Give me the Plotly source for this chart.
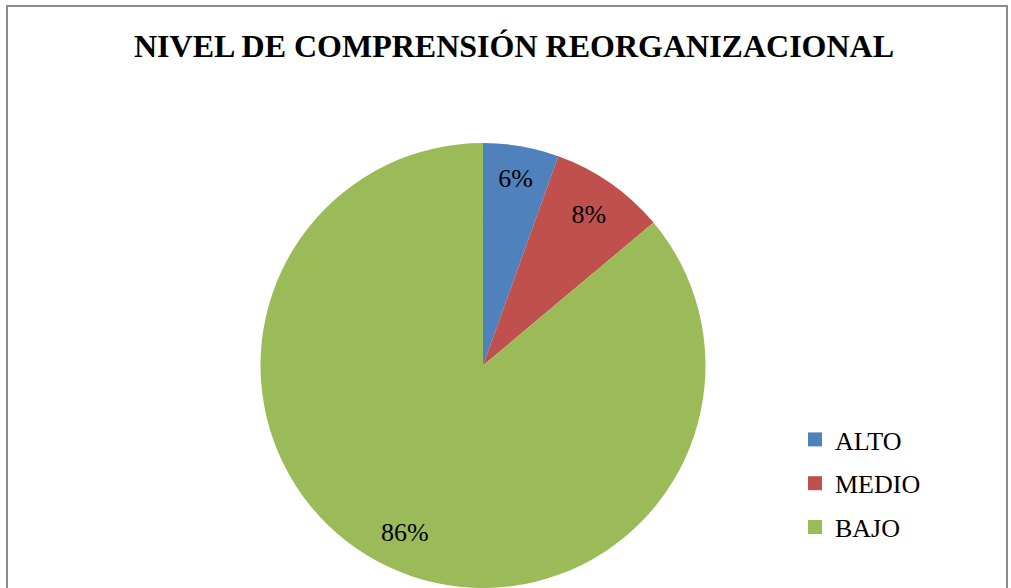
import plotly.graph_objects as go

# data
niveles = ["ALTO", "MEDIO", "BAJO"]
porcentajes = [5.5, 8.4, 86.1]
colores = ["#4F81BD", "#C0504D", "#9BBB59"]

W, H = 1011, 588
CX, CY, R = 483, 365.5, 222.5   # pie centre / radius in pixels
HOLE = 0.66                     # labels sit at ~0.83 R like the Excel original

serif = "Liberation Serif"


def dom(cx, cy, r):
    return dict(x=[(cx - r) / W, (cx + r) / W], y=[max(0, (H - cy - r) / H), (H - cy + r) / H])


fig = go.Figure()

# outer ring carries the percentage labels
fig.add_trace(go.Pie(
    labels=niveles, values=porcentajes, sort=False, direction="clockwise", rotation=0,
    hole=HOLE, marker=dict(colors=colores, line=dict(width=0)),
    texttemplate="%{percent:.0%}", textposition="inside", insidetextorientation="horizontal",
    textfont=dict(family=serif, size=26, color="black"),
    insidetextfont=dict(family=serif, size=26, color="black"),
    hoverinfo="label+percent", showlegend=False,
    domain=dict(x=[(CX - R) / W, (CX + R) / W], y=[0, (H - CY + R) / H]),
))

# inner disc fills the hole
fig.add_trace(go.Pie(
    labels=niveles, values=porcentajes, sort=False, direction="clockwise", rotation=0,
    marker=dict(colors=colores, line=dict(width=0)),
    textinfo="none", hoverinfo="label+percent", showlegend=False,
    domain=dom(CX, CY, R * HOLE + 1),
))

# legend entries as separate traces so the spacing can be controlled
for nombre, color in zip(niveles, colores):
    fig.add_trace(go.Scatter(
        x=[None], y=[None], mode="markers", name=nombre, legendgroup=nombre,
        marker=dict(symbol="square", size=14, color=color),
    ))

fig.update_layout(
    width=W, height=H,
    margin=dict(l=0, r=0, t=0, b=0),
    paper_bgcolor="white", plot_bgcolor="white",
    title=dict(text="<b>NIVEL DE COMPRENSIÓN REORGANIZACIONAL</b>", x=514 / W, xanchor="center",
               y=1 - 46 / H, yanchor="middle",
               font=dict(family=serif, size=32, color="black")),
    xaxis=dict(visible=False), yaxis=dict(visible=False),
    legend=dict(x=795 / W, y=1 - 416 / H, xanchor="left", yanchor="top",
                font=dict(family=serif, size=26, color="black"),
                tracegroupgap=7, itemsizing="trace", bgcolor="rgba(0,0,0,0)"),
    shapes=[dict(type="rect", xref="paper", yref="paper", x0=7 / W, x1=1007 / W, y0=-0.1, y1=1 - 6 / H,
                 line=dict(color="#8C8C8C", width=2))],
)

# the page is photographed at exactly the figure size, so drop the default body margin
fig.write_html("out.html", config={"displayModeBar": False},
               post_script="document.body.style.margin='0';")
